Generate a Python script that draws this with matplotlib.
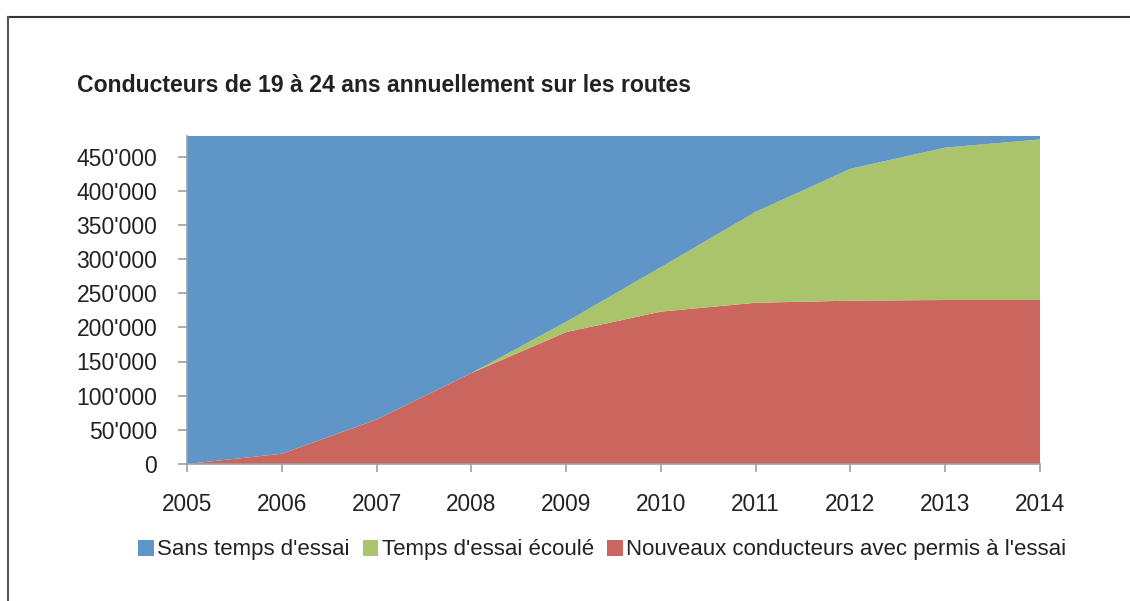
import matplotlib
matplotlib.use("Agg")
import matplotlib.pyplot as plt
from matplotlib.patches import Patch
from matplotlib.ticker import FuncFormatter
from matplotlib.lines import Line2D

years = [2005, 2006, 2007, 2008, 2009, 2010, 2011, 2012, 2013, 2014]
nouveaux = [0, 15000, 65000, 133000, 193000, 223000, 236000, 239000, 240000, 240000]
ecoule = [0, 0, 0, 0, 15000, 65000, 133000, 193000, 223000, 235000]
sans = [480000, 465000, 415000, 347000, 272000, 192000, 111000, 48000, 17000, 5000]
labels = ["Sans temps d'essai", "Temps d'essai écoulé",
          "Nouveaux conducteurs avec permis à l'essai"]
title = "Conducteurs de 19 à 24 ans annuellement sur les routes"
yticks = [0, 50000, 100000, 150000, 200000, 250000, 300000, 350000, 400000, 450000]

c_blue = "#5f96c7"
c_green = "#a9c46b"
c_red = "#cb665e"

plt.rcParams['font.family'] = ['Liberation Sans', 'DejaVu Sans']

fig = plt.figure(figsize=(11.3, 6.01), dpi=100)
ax = fig.add_axes([187/1130, (601-464)/601, (1040-187)/1130, (464-136)/601])

ax.stackplot(years, nouveaux, ecoule, sans,
             colors=[c_red, c_green, c_blue], linewidth=0)

ax.set_xlim(2005, 2014)
ax.set_ylim(0, 480000)
ax.set_yticks(yticks)
ax.set_xticks(years)
ax.yaxis.set_major_formatter(FuncFormatter(lambda v, p: "{:,}".format(int(v)).replace(",", "'")))

for s in ["top", "right"]:
    ax.spines[s].set_visible(False)
for s in ["left", "bottom"]:
    ax.spines[s].set_color("#a0a0a0")
    ax.spines[s].set_linewidth(1.2)

ax.tick_params(axis="y", direction="out", length=6.5, width=1.2, color="#a0a0a0",
               pad=15, labelsize=16.5, labelcolor="#222222")
ax.tick_params(axis="x", direction="out", length=6, width=1.2, color="#a0a0a0",
               pad=15, labelsize=16.3, labelcolor="#222222")

fig.text(77/1130, 1 - 86/601, title, fontsize=16.6, fontweight="bold",
         color="#222222", ha="left", va="center")

handles = [Patch(facecolor=c_blue), Patch(facecolor=c_green), Patch(facecolor=c_red)]
fig.legend(handles, labels, loc="center", bbox_to_anchor=(602/1130, 1 - 550/601),
           ncol=3, frameon=False, fontsize=16, handlelength=0.7, handleheight=0.7,
           handletextpad=0.15, columnspacing=0.6, labelcolor="#222222")

# frame lines (top and left)
fig.add_artist(Line2D([8/1130, 1], [1 - 17/601, 1 - 17/601], transform=fig.transFigure,
                      color="#333333", linewidth=1.5))
fig.add_artist(Line2D([8/1130, 8/1130], [0, 1 - 17/601], transform=fig.transFigure,
                      color="#555555", linewidth=1.5))

fig.savefig("out.png", dpi=100)
